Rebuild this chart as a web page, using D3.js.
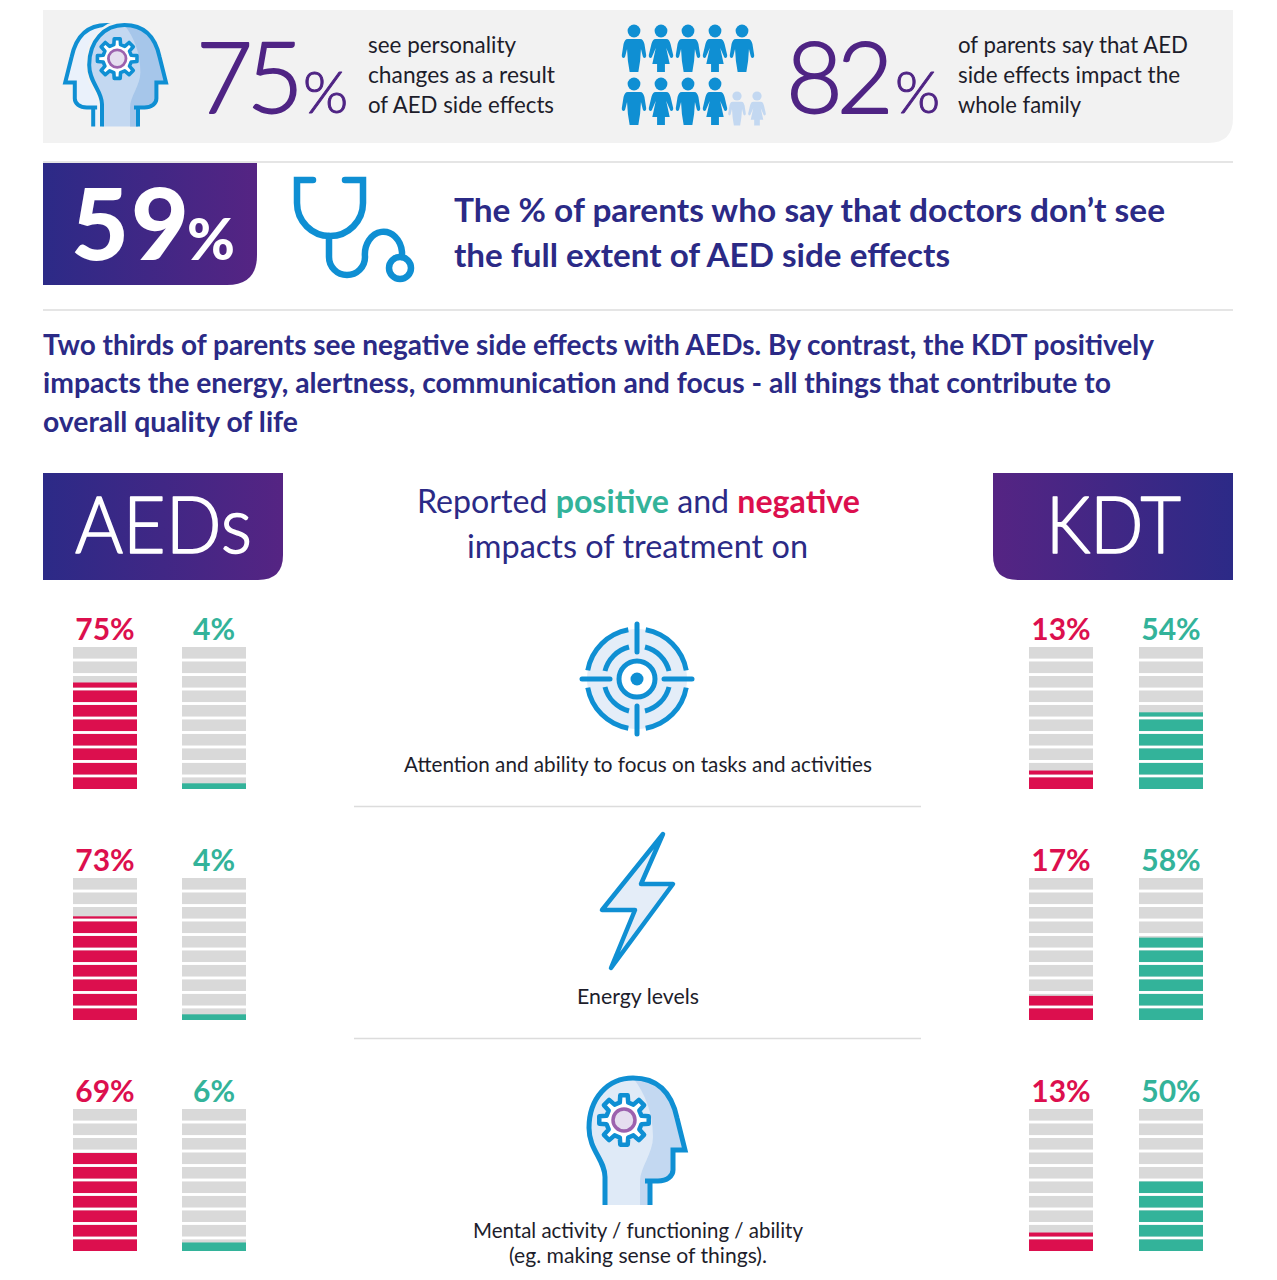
<!DOCTYPE html>
<html><head><meta charset="utf-8">
<script src="https://cdnjs.cloudflare.com/ajax/libs/d3/7.8.5/d3.min.js"></script>
<style>html,body{margin:0;padding:0;background:#fff}svg{display:block}text{font-family:Lato,"Open Sans",sans-serif}</style>
</head><body><svg id="c" width="1277" height="1280"></svg>
<script>
// Data
const treatments = ["AEDs", "KDT"];
const aedsNegative = [75, 73, 69];
const aedsPositive = [4, 4, 6];
const kdtNegative = [13, 17, 13];
const kdtPositive = [54, 58, 50];
const impactCaptions = [
  ["Attention and ability to focus on tasks and activities"],
  ["Energy levels"],
  ["Mental activity / functioning / ability", "(eg. making sense of things)."]
];
const segments = d3.range(10);

const C = {navy:"#2b2a86", purple:"#4f2484", teal:"#33b39a", red:"#dc0f4e", blue:"#0f8fd3", pale:"#e4edf8", mid:"#c3d8f1", dark:"#a6c6ea", grey:"#d9d9d9", panel:"#f2f2f2", rule:"#dcdcdc", ink:"#1d1d2b"};
const svg = d3.select("#c");
const defs = svg.append("defs");
function grad(id, a, b){
  const g = defs.append("linearGradient").attr("id",id);
  g.append("stop").attr("offset",0).attr("stop-color",a);
  g.append("stop").attr("offset",1).attr("stop-color",b);
}
grad("gr",  "#2c2a87", "#552483");
grad("gl",  "#552483", "#2c2a87");

function T(x,y,s,size,weight,fill,width,anchor){
  const t = svg.append("text").attr("x",x).attr("y",y).attr("font-size",size)
    .attr("font-weight",weight).attr("fill",fill).attr("text-anchor",anchor||"start").text(s);
  if(width) t.attr("textLength",width).attr("lengthAdjust","spacingAndGlyphs");
  return t;
}
function heavy(t,c,w){return t.attr("stroke",c).attr("stroke-width",w).attr("stroke-linejoin","round");}
function rule(x1,x2,y){svg.append("line").attr("x1",x1).attr("x2",x2).attr("y1",y).attr("y2",y).attr("stroke",C.rule).attr("stroke-width",1.5);}

// Backgrounds
svg.append("path").attr("d","M43 10H1233V118Q1233 143 1208 143H43Z").attr("fill",C.panel);
rule(43,1233,162); rule(43,1233,310); rule(354,921,806.5); rule(354,921,1038.5);
svg.append("path").attr("d","M43 163H257V255Q257 285 227 285H43Z").attr("fill","url(#gr)");
svg.append("path").attr("d","M43 473H283V555Q283 580 258 580H43Z").attr("fill","url(#gr)");
svg.append("path").attr("d","M993 473H1233V580H1018Q993 580 993 555Z").attr("fill","url(#gl)");

// Top stats
heavy(T(196,113,"75",98,300,C.purple),C.purple,1.8).attr("letter-spacing",-6);
heavy(T(303,113,"%",58,300,C.purple),C.purple,1);
["see personality","changes as a result","of AED side effects"].forEach((s,i)=>T(368,53+30*i,s,23,400,C.ink,[148,187,186][i]));
heavy(T(786,113,"82",98,300,C.purple),C.purple,1.8).attr("letter-spacing",-6);
heavy(T(895,113,"%",58,300,C.purple),C.purple,1);
["of parents say that AED","side effects impact the","whole family"].forEach((s,i)=>T(958,53+30*i,s,23,400,C.ink,[230,222,123][i]));

// 59
T(71,260,"59",100,900,"#fff").attr("letter-spacing",2);
T(187,260,"%",58,900,"#fff");
T(454,222,"The % of parents who say that doctors don\u2019t see",33,700,C.navy,711);
T(454,267,"the full extent of AED side effects",33,700,C.navy,496);
["Two thirds of parents see negative side effects with AEDs. By contrast, the KDT positively",
 "impacts the energy, alertness, communication and focus - all things that contribute to",
 "overall quality of life"].forEach((s,i)=>T(43,355+38.3*i,s,28,700,C.navy,[1111,1068,255][i]));

// Headers
heavy(T(75,553,treatments[0],79,300,"#fff",177),"#fff",1.6);
heavy(T(1046,553,treatments[1],79,300,"#fff",135),"#fff",1.6);
const h = T(417,513,"",32,400,C.navy,443);
h.append("tspan").text("Reported ");
h.append("tspan").attr("fill",C.teal).attr("font-weight",700).text("positive");
h.append("tspan").text(" and ");
h.append("tspan").attr("fill",C.red).attr("font-weight",700).text("negative");
T(467,558,"impacts of treatment on",32,400,C.navy,341);

// Bars
const barH = 142, barW = 64;
const rowTops = [647, 878, 1109];
const y = d3.scaleLinear().domain([0,100]).range([barH,0]);
const band = d3.scaleBand().domain(segments).range([barH,0]).paddingInner(0.2);
const columns = [
  {x:73,  v:aedsNegative, c:C.red},
  {x:182, v:aedsPositive, c:C.teal},
  {x:1029,v:kdtNegative,  c:C.red},
  {x:1139,v:kdtPositive,  c:C.teal}
];
columns.forEach(col=>{
  col.v.forEach((val,r)=>{
    const g = svg.append("g").attr("transform",`translate(${col.x},${rowTops[r]})`);
    g.selectAll("rect.bg").data(segments).join("rect").attr("class","bg")
      .attr("width",barW).attr("y",d=>band(d)).attr("height",band.bandwidth()).attr("fill",C.grey);
    g.selectAll("rect.fg").data(segments).join("rect").attr("class","fg")
      .attr("width",barW)
      .attr("y",d=>Math.max(band(d),y(val)))
      .attr("height",d=>Math.max(0,band(d)+band.bandwidth()-Math.max(band(d),y(val))))
      .attr("fill",col.c);
    g.append("text").attr("x",barW/2).attr("y",-7.5).attr("text-anchor","middle")
      .attr("font-size",30).attr("font-weight",700).attr("fill",col.c).text(val+"%");
  });
});

// Captions
const capY = [772,1004,1238];
const capW = [[468],[122],[330,258]];
impactCaptions.forEach((lines,r)=>lines.forEach((s,i)=>
  T(638,capY[r]+25*i,s,22,400,C.ink,capW[r][i],"middle")));

// Icons
const PROFILE = "M35 127V99C35 82 19 72 19 50C19 20 38 0 63 0C85 0 101 12 107 40L115 72H103V92C103 98 97 103 88 103";
const HEAD = PROFILE+"H75M80 103V127";
const HEADFILL = PROFILE+"H80V127Z";
const SHADE = "M63 0C85 0 101 12 107 40L115 72H103V92C103 98 97 103 88 103H80V127H70V103C70 90 83 75 83 59C83 35 75 15 63 0Z";
function gearPath(r1,r2,n){
  const pts=[];const st=2*Math.PI/n;
  for(let i=0;i<n;i++){const a=i*st;
    pts.push([a-st*.30,r1],[a-st*.19,r2],[a+st*.19,r2],[a+st*.30,r1]);}
  return d3.lineRadial().curve(d3.curveLinearClosed)(pts);
}
function head(g,base,shade){
  g.append("path").attr("d",HEADFILL).attr("fill",base);
  g.append("path").attr("d",SHADE).attr("fill",shade);
  g.append("path").attr("d",HEAD).attr("fill","none").attr("stroke",C.blue).attr("stroke-width",5);
  const k=g.append("g").attr("transform","translate(54,42)");
  k.append("path").attr("d",gearPath(18,25,8)).attr("fill","#fff").attr("stroke",C.blue).attr("stroke-width",4.5).attr("stroke-linejoin","round");
  k.append("circle").attr("r",11).attr("fill","#e5deef").attr("stroke","#9c62ae").attr("stroke-width",3.5);
}
// Top pair of heads
const pair = svg.append("g").attr("transform","translate(62,25) scale(.8)");
pair.append("g").attr("transform","translate(119,0) scale(-1,1)").call(b=>{
  b.append("path").attr("d",HEADFILL).attr("fill","#eaf1fb");
  b.append("path").attr("d",HEAD).attr("fill","none").attr("stroke",C.blue).attr("stroke-width",5);
});
pair.append("path").attr("d",HEADFILL).attr("transform","translate(15,0)").attr("fill","none").attr("stroke",C.panel).attr("stroke-width",11);
head(pair.append("g").attr("transform","translate(15,0)"),C.mid,C.dark);
// Lower head
head(svg.append("g").attr("transform","translate(570,1078)"),"#dfeaf7",C.mid);

// People
const MAN="M-7 8H7C10 8 11 10 12 13L14 24C14.5 27.5 10.5 28 10 25L8 18L7 30L5 41H-5L-7 30L-8 18L-10 25C-10.5 28 -14.5 27.5 -14 24L-12 13C-11 10 -10 8 -7 8Z";
const WOMAN="M-6 8H6C9 8 10 10 11 13L14 24C14.5 27.5 10.5 28 10 25L6 17L10 33H4.5V41H-4.5V33H-10L-6 17L-10 25C-10.5 28 -14.5 27.5 -14 24L-11 13C-10 10 -9 8 -6 8Z";
function person(x,yy,s,w,c){
  const g=svg.append("g").attr("transform",`translate(${x},${yy}) scale(${s})`).attr("fill",c);
  g.append("circle").attr("r",6.4);
  g.append("path").attr("d",w?WOMAN:MAN).attr("transform","scale(.87,1)");
}
d3.range(5).forEach(i=>person(634+27*i,31,1,i%2,C.blue));
d3.range(4).forEach(i=>person(634+27*i,84,1,i%2,C.blue));
person(737,96,.72,0,C.mid);
person(757,96,.72,1,C.mid);

// Stethoscope
svg.append("g").attr("fill","none").attr("stroke",C.blue).attr("stroke-width",6.5).attr("stroke-linecap","round").call(g=>{
  g.append("path").attr("d","M313 180H297V203A33 33 0 0 0 363 203V180H345");
  g.append("path").attr("d","M329 236V257A18 18 0 0 0 365 257A18 22 0 0 1 402 252V257");
  g.append("circle").attr("cx",400).attr("cy",268).attr("r",11);
});

// Target
const tg = svg.append("g").attr("transform","translate(637,679)");
tg.append("circle").attr("r",50).attr("fill",C.pale);
[[50,10],[33,14]].forEach(([r,a])=>{
  const arc=d3.arc().innerRadius(r-2.5).outerRadius(r+2.5);
  d3.range(4).forEach(q=>tg.append("path").attr("fill",C.blue).attr("d",arc({
    startAngle:(q*90+a)*Math.PI/180,endAngle:((q+1)*90-a)*Math.PI/180})));
});
tg.append("circle").attr("r",18).attr("fill","#fff").attr("stroke",C.blue).attr("stroke-width",5);
tg.append("circle").attr("r",6.5).attr("fill",C.blue);
[[0,-55,0,-27],[0,27,0,55],[-55,0,-27,0],[27,0,55,0]].forEach(l=>tg.append("line")
  .attr("x1",l[0]).attr("y1",l[1]).attr("x2",l[2]).attr("y2",l[3])
  .attr("stroke",C.blue).attr("stroke-width",5).attr("stroke-linecap","round"));

// Bolt
svg.append("path").attr("d","M663 834L602 910H635L611 968L673 884H641Z")
  .attr("fill",C.pale).attr("stroke",C.blue).attr("stroke-width",4.5).attr("stroke-linejoin","round");
</script></body></html>
